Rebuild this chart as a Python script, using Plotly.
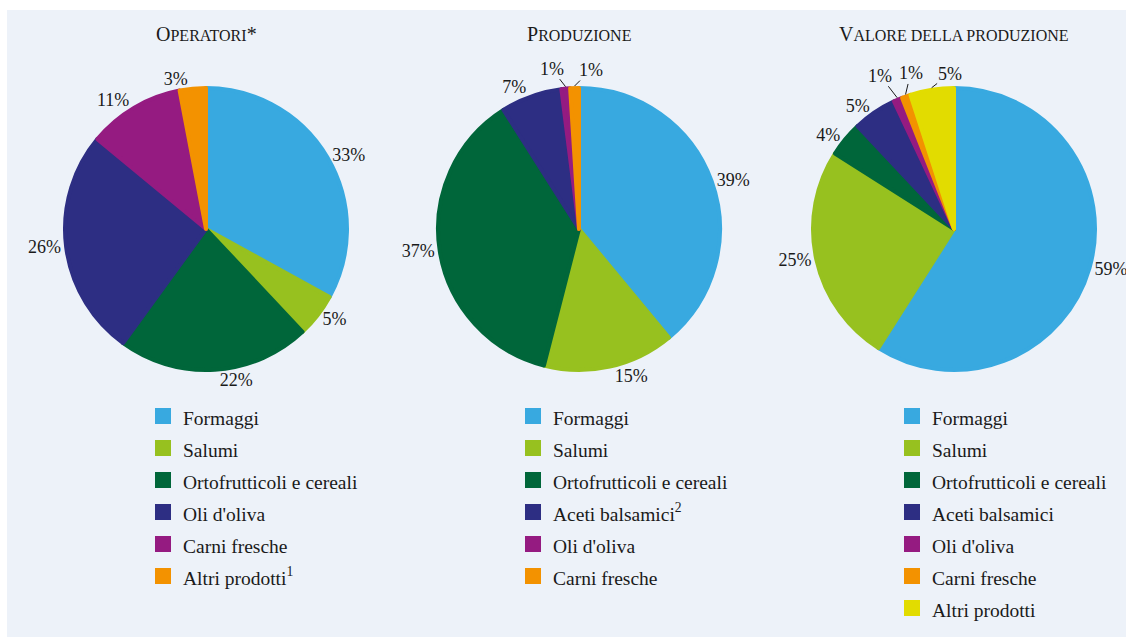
import math
import plotly.graph_objects as go

W, H = 1126, 638

# ---------------- data ----------------
labels_op = ["Formaggi", "Salumi", "Ortofrutticoli e cereali", "Oli d'oliva",
             "Carni fresche", "Altri prodotti<sup>1</sup>"]
values_op = [33, 5, 22, 26, 11, 3]

labels_pr = ["Formaggi", "Salumi", "Ortofrutticoli e cereali",
             "Aceti balsamici<sup>2</sup>", "Oli d'oliva", "Carni fresche"]
values_pr = [39, 15, 37, 7, 1, 1]

labels_va = ["Formaggi", "Salumi", "Ortofrutticoli e cereali", "Aceti balsamici",
             "Oli d'oliva", "Carni fresche", "Altri prodotti"]
values_va = [59, 25, 4, 5, 1, 1, 5]

# ---------------- style ----------------
titles = [("O", "PERATORI", "*"), ("P", "RODUZIONE", ""), ("V", "ALORE DELLA PRODUZIONE", "")]
colors = ["#38a9e0", "#97c11f", "#00663a", "#2d2e83", "#951b81", "#f39200", "#e2dc00"]
FONT = "Liberation Serif, Times New Roman, serif"
TXT = "#1a1a1a"
BG = "#edf2f9"

centers = [206, 579, 954]   # pixel centres of the pies
CY = 229
R = 141                      # domain radius (stroke adds ~2px)
legend_x = [143, 513, 892]
legend_top = 395
# slices whose label is drawn with a leader line instead of native outside text
# (index -> pixel offset of the label from the slice rim)
callouts = [
    {},
    {4: (-14, -18), 5: (16, -16)},
    {4: (-17, -22), 5: (5, -21), 6: (18, -14)},
]
leg_styles = ["font-size:19.5px", "font-size:19.5px;", "font-size: 19.5px"]


def px(x):
    return x / W


def py(y):
    return (H - y) / H


fig = go.Figure()
annotations = []
data = [(labels_op, values_op), (labels_pr, values_pr), (labels_va, values_va)]
for i, (lb, vals) in enumerate(data):
    cols = colors[:len(vals)]
    cx = centers[i]
    tpos = ["none" if k in callouts[i] else "outside" for k in range(len(vals))]
    fig.add_trace(go.Pie(
        labels=['<span style="%s">%s</span>' % (leg_styles[i], l) for l in lb],
        values=vals, sort=False, direction="clockwise", rotation=0,
        marker=dict(colors=cols, line=dict(color=cols, width=4)),
        texttemplate="%{value}%", textposition=tpos,
        textfont=dict(family=FONT, size=18, color=TXT),
        domain=dict(x=[px(cx - R), px(cx + R)], y=[py(CY + R), py(CY - R)]),
        legend="legend" if i == 0 else "legend%d" % (i + 1),
        hoverinfo="label+percent", showlegend=True,
    ))
    # callout labels for thin slices, anchored at the slice mid-angle on the rim
    total = float(sum(vals))
    cum = 0.0
    for k, v in enumerate(vals):
        mid = (cum + v / 2.0) / total * 2 * math.pi
        cum += v
        if k in callouts[i]:
            rx = cx + (R + 2) * math.sin(mid)
            ry = CY - (R + 2) * math.cos(mid)
            ax, ay = callouts[i][k]
            annotations.append(dict(
                x=px(rx), y=py(ry), xref="paper", yref="paper", text="%g%%" % v,
                showarrow=True, arrowhead=0, arrowwidth=1, arrowcolor=TXT,
                ax=ax, ay=ay, standoff=0, borderpad=0,
                font=dict(family=FONT, size=18, color=TXT)))

for i, (a, b, c) in enumerate(titles):
    annotations.append(dict(
        text='%s<span style="font-size:16px">%s</span>%s' % (a, b, c),
        x=px(centers[i]), y=py(34), xref="paper", yref="paper",
        showarrow=False, xanchor="center", yanchor="middle",
        font=dict(family=FONT, size=20, color=TXT)))

layout_legends = {}
for i, lx in enumerate(legend_x):
    key = "legend" if i == 0 else "legend%d" % (i + 1)
    layout_legends[key] = dict(
        font=dict(family=FONT, size=22.3, color=TXT), bgcolor="rgba(0,0,0,0)",
        xanchor="left", yanchor="top", x=px(lx), y=py(legend_top), orientation="v",
        itemclick=False, itemdoubleclick=False)

fig.update_layout(
    width=W, height=H, margin=dict(l=0, r=0, t=0, b=0, autoexpand=False),
    paper_bgcolor="white", plot_bgcolor="white",
    shapes=[dict(type="rect", xref="paper", yref="paper", x0=px(7), x1=1, y0=py(637), y1=py(10),
                 fillcolor=BG, line=dict(width=0), layer="below")],
    annotations=annotations,
    **layout_legends,
)

fig.write_html("out.html", config={"displayModeBar": False},
               post_script="document.body.style.margin='0';")
